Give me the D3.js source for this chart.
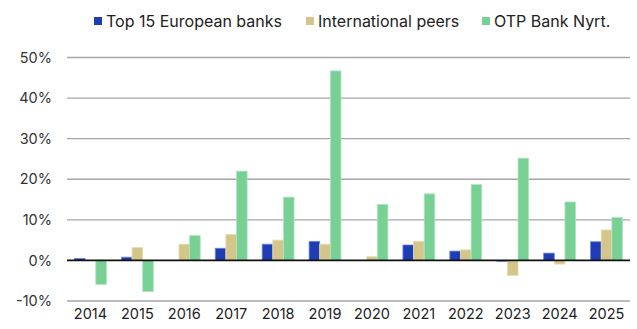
<!DOCTYPE html>
<html><head><meta charset="utf-8">
<script src="https://cdn.jsdelivr.net/npm/d3@7/dist/d3.min.js"></script>
<style>body{margin:0;background:#fff}svg{display:block;font-family:Inter,Roboto,sans-serif}</style>
</head><body><svg id="c" width="637" height="329"></svg>
<script>
const years = ["2014","2015","2016","2017","2018","2019","2020","2021","2022","2023","2024","2025"];
const seriesNames = ["Top 15 European banks","International peers","OTP Bank Nyrt."];
const top15 = [0.5, 0.8, 0, 3.0, 4.0, 4.7, 0, 3.8, 2.3, -0.2, 1.8, 4.6];
const intlPeers = [0, 3.2, 4.0, 6.4, 5.0, 4.0, 0.9, 4.7, 2.6, -3.7, -0.9, 7.5];
const otp = [-5.9, -7.7, 6.1, 22.0, 15.6, 46.7, 13.8, 16.4, 18.7, 25.2, 14.4, 10.6];
const yTicks = [-10, 0, 10, 20, 30, 40, 50];
const colors = ["#1e3db5", "#d4c58a", "#78d095"];
const strokes = ["#6f86e0", "#e6dcae", "#b0e6c0"];

const svg = d3.select("#c");
const margin = {left: 67, right: 7, top: 57, bottom: 28};
const W = 637, H = 329;
const x = d3.scaleBand().domain(years).range([margin.left, W - margin.right]).paddingInner(0.32).paddingOuter(0.16);
const y = d3.scaleLinear().domain([-10, 50]).range([301, 57.5]);
const xs = d3.scaleBand().domain([0,1,2]).range([0, x.bandwidth()]);

// gridlines
svg.append("g").selectAll("line").data(yTicks.filter(t => t !== 0)).join("line")
  .attr("x1", margin.left).attr("x2", W - margin.right)
  .attr("y1", d => y(d)).attr("y2", d => y(d))
  .attr("stroke", "#a6a6a6").attr("stroke-width", 1.3);

// y axis labels
const yAxis = d3.axisLeft(y).tickValues(yTicks).tickFormat(d => d + "%").tickSize(0).tickPadding(15);
const ya = svg.append("g").attr("transform", `translate(${margin.left},0)`).call(yAxis);
ya.select(".domain").remove();
ya.selectAll("text").attr("font-size", 14.5).attr("fill", "#333").attr("font-family", "Inter, Roboto, sans-serif");

// bars
const data = [top15, intlPeers, otp];
data.forEach((vals, si) => {
  svg.append("g").selectAll("rect").data(vals.map((v, i) => ({v, yr: years[i]}))).join("rect")
    .attr("x", d => x(d.yr) + xs(si))
    .attr("width", xs.bandwidth())
    .attr("y", d => Math.min(y(d.v), y(0)))
    .attr("height", d => Math.abs(y(d.v) - y(0)))
    .attr("fill", colors[si])
    .attr("stroke", d => d.v === 0 ? "none" : strokes[si]).attr("stroke-width", 0.8);
});

// zero line
svg.append("line").attr("x1", margin.left).attr("x2", W - margin.right)
  .attr("y1", y(0)).attr("y2", y(0)).attr("stroke", "#111").attr("stroke-width", 1.6);

// x axis labels
const xAxis = d3.axisBottom(x).tickSize(0).tickPadding(0);
const xa = svg.append("g").attr("transform", `translate(0,309)`).call(xAxis);
xa.select(".domain").remove();
xa.selectAll("text").attr("font-size", 14.5).attr("fill", "#222").attr("font-family", "Inter, Roboto, sans-serif");

// legend
const legX = [94, 306, 482];
const lg = svg.append("g");
seriesNames.forEach((n, i) => {
  lg.append("rect").attr("x", legX[i]).attr("y", 17).attr("width", 8).attr("height", 8).attr("fill", colors[i]);
  lg.append("text").attr("x", legX[i] + 12).attr("y", 26.5).attr("font-size", 16).attr("fill", "#222").text(n);
});
</script></body></html>
